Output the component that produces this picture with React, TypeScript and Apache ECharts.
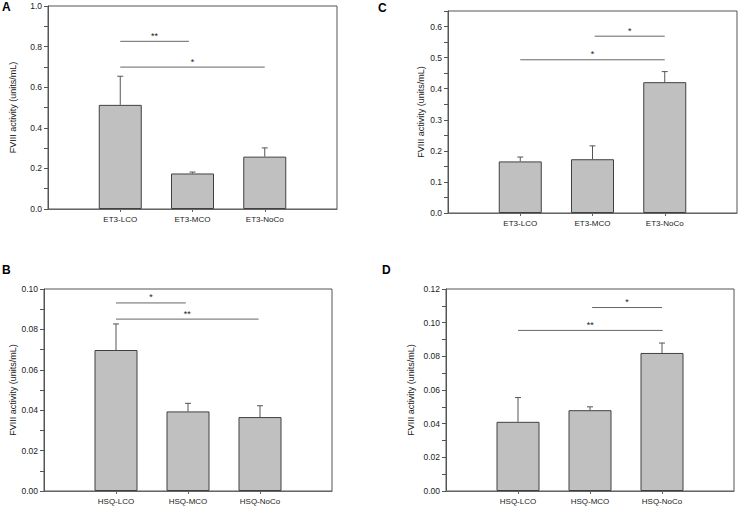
import React, { useEffect, useRef } from "react";
import * as echarts from "echarts";

// ---------- data ----------
const catsET3 = ["ET3-LCO", "ET3-MCO", "ET3-NoCo"];
const catsHSQ = ["HSQ-LCO", "HSQ-MCO", "HSQ-NoCo"];

const meanA = [0.513, 0.175, 0.258];
const sdA = [0.141, 0.007, 0.043];
const sigA = [[1, 1.95, 0.826], [1, 3, 0.699]];
const sigLabelA = ["**", "*"];

const meanC = [0.166, 0.173, 0.421];
const sdC = [0.014, 0.043, 0.034];
const sigC = [[2.03, 3, 0.569], [1, 3, 0.493]];
const sigLabelC = ["*", "*"];

const meanB = [0.0698, 0.0394, 0.0366];
const sdB = [0.0129, 0.004, 0.0056];
const sigB = [[1, 1.97, 0.0931], [1, 2.98, 0.0851]];
const sigLabelB = ["*", "**"];

const meanD = [0.0411, 0.048, 0.082];
const sdD = [0.0144, 0.002, 0.0059];
const sigD = [[2.03, 3, 0.109], [1, 3.01, 0.0954]];
const sigLabelD = ["*", "**"];

const yTicksA = [0, 0.2, 0.4, 0.6, 0.8, 1.0];
const yTicksC = [0, 0.1, 0.2, 0.3, 0.4, 0.5, 0.6];
const yTicksB = [0, 0.02, 0.04, 0.06, 0.08, 0.1];
const yTicksD = [0, 0.02, 0.04, 0.06, 0.08, 0.1, 0.12];

const yTitle = "FVIII activity (units/mL)";
const FONT = "Liberation Sans, Arial, sans-serif";

type Panel = {
  letter: string;
  cats: string[];
  mean: number[];
  sd: number[];
  sig: number[][];
  sigLabel: string[];
  ticks: number[];
  max: number;
  decimals: number;
  grid: { left: number; top: number; width: number; height: number };
  nameGap: number;
  letterPos: [number, number];
};

const panels: Panel[] = [
  {
    letter: "A", cats: catsET3, mean: meanA, sd: sdA, sig: sigA, sigLabel: sigLabelA,
    ticks: yTicksA, max: 1.0, decimals: 1,
    grid: { left: 48, top: 6, width: 289, height: 203 }, nameGap: 31, letterPos: [2, 1],
  },
  {
    letter: "C", cats: catsET3, mean: meanC, sd: sdC, sig: sigC, sigLabel: sigLabelC,
    ticks: yTicksC, max: 0.65, decimals: 1,
    grid: { left: 448, top: 11, width: 289, height: 202 }, nameGap: 23, letterPos: [378, 2],
  },
  {
    letter: "B", cats: catsHSQ, mean: meanB, sd: sdB, sig: sigB, sigLabel: sigLabelB,
    ticks: yTicksB, max: 0.1, decimals: 2,
    grid: { left: 44, top: 289, width: 288, height: 202 }, nameGap: 26, letterPos: [2, 264],
  },
  {
    letter: "D", cats: catsHSQ, mean: meanD, sd: sdD, sig: sigD, sigLabel: sigLabelD,
    ticks: yTicksD, max: 0.12, decimals: 2,
    grid: { left: 446, top: 289, width: 288, height: 202 }, nameGap: 31, letterPos: [382, 264],
  },
];

function minorOf(ticks: number[], max: number): number[] {
  const out: number[] = [];
  const step = ticks[1] - ticks[0];
  for (let i = 0; i < ticks.length; i++) {
    out.push(ticks[i]);
    const m = ticks[i] + step / 2;
    if (m <= max + 1e-9) out.push(m);
  }
  return out;
}

function buildOption() {
  const grids: any[] = [];
  const xAxes: any[] = [];
  const yAxes: any[] = [];
  const series: any[] = [];
  const graphics: any[] = [];

  panels.forEach((p, i) => {
    grids.push({
      ...p.grid,
      show: true,
      borderColor: "#555",
      borderWidth: 1,
      backgroundColor: "transparent",
      containLabel: false,
    });
    xAxes.push({
      gridIndex: i,
      type: "value",
      min: 0,
      max: 4,
      splitLine: { show: false },
      axisLine: { show: true, lineStyle: { color: "#666", width: 1 } },
      axisTick: { show: true, length: 3, customValues: [1, 2, 3], lineStyle: { color: "#666" } },
      axisLabel: {
        customValues: [1, 2, 3],
        formatter: (v: number) => p.cats[Math.round(v) - 1] ?? "",
        fontSize: 8,
        fontFamily: FONT,
        color: "#222",
        margin: 6,
      },
    });
    yAxes.push({
      gridIndex: i,
      type: "value",
      min: 0,
      max: p.max,
      name: yTitle,
      nameLocation: "middle",
      nameGap: p.nameGap,
      nameTextStyle: { fontSize: 9, fontFamily: FONT, color: "#222" },
      splitLine: { show: false },
      axisLine: { show: true, lineStyle: { color: "#555", width: 1 } },
      axisTick: { show: true, length: 4, customValues: minorOf(p.ticks, p.max), lineStyle: { color: "#555" } },
      axisLabel: {
        customValues: p.ticks,
        formatter: (v: number) => v.toFixed(p.decimals),
        fontSize: 8.5,
        fontFamily: FONT,
        color: "#222",
        margin: 6,
      },
    });

    series.push({
      type: "bar",
      xAxisIndex: i,
      yAxisIndex: i,
      barWidth: 43,
      data: p.mean.map((v, k) => [k + 1, v]),
      itemStyle: { color: "#c0c0c0", borderColor: "#404040", borderWidth: 1 },
      z: 2,
    });

    series.push({
      type: "custom",
      xAxisIndex: i,
      yAxisIndex: i,
      data: p.mean.map((v, k) => [k + 1, v, v + p.sd[k]]),
      encode: { x: 0, y: [1, 2] },
      z: 3,
      renderItem: (params: any, api: any) => {
        const x = api.value(0);
        const lo = api.coord([x, api.value(1)]);
        const hi = api.coord([x, api.value(2)]);
        const style = { stroke: "#555", lineWidth: 1 };
        return {
          type: "group",
          children: [
            { type: "line", shape: { x1: lo[0], y1: lo[1], x2: hi[0], y2: hi[1] }, style },
            { type: "line", shape: { x1: hi[0] - 3, y1: hi[1], x2: hi[0] + 3, y2: hi[1] }, style },
          ],
        };
      },
    });

    series.push({
      type: "custom",
      xAxisIndex: i,
      yAxisIndex: i,
      data: p.sig,
      encode: { x: [0, 1], y: 2 },
      z: 4,
      renderItem: (params: any, api: any) => {
        const a = api.coord([api.value(0), api.value(2)]);
        const b = api.coord([api.value(1), api.value(2)]);
        return {
          type: "group",
          children: [
            {
              type: "line",
              shape: { x1: a[0], y1: a[1], x2: b[0], y2: b[1] },
              style: { stroke: "#666", lineWidth: 1 },
            },
            {
              type: "text",
              x: (a[0] + b[0]) / 2,
              y: a[1] - 1,
              style: {
                text: p.sigLabel[params.dataIndex],
                fontSize: 9,
                fontFamily: FONT,
                fill: "#222",
                align: "center",
                verticalAlign: "bottom",
              },
            },
          ],
        };
      },
    });

    graphics.push({
      type: "text",
      left: p.letterPos[0],
      top: p.letterPos[1],
      style: { text: p.letter, fontSize: 12, fontWeight: "bold", fontFamily: FONT, fill: "#000" },
    });
  });

  return {
    animation: false,
    backgroundColor: "#fff",
    grid: grids,
    xAxis: xAxes,
    yAxis: yAxes,
    series,
    graphic: graphics,
  };
}

export default function App() {
  const ref = useRef<HTMLDivElement>(null);
  useEffect(() => {
    if (!ref.current) return;
    const chart = echarts.init(ref.current, null, { renderer: "svg" });
    chart.setOption(buildOption() as any);
    return () => chart.dispose();
  }, []);
  return (
    <div
      ref={ref}
      style={{ position: "fixed", left: 0, top: 0, width: 739, height: 507, background: "#fff" }}
    />
  );
}
